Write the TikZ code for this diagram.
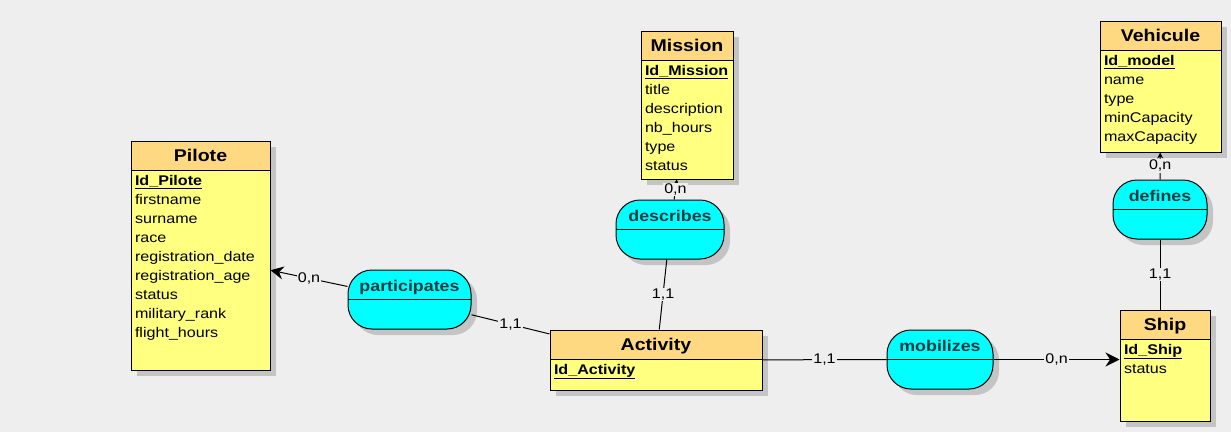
\documentclass[tikz,border=0pt]{standalone}
\usepackage{fontspec}
\setmainfont{Liberation Sans}[FakeStretch=1.15]
\usetikzlibrary{arrows.meta, shadows}
\definecolor{canvas}{HTML}{EEEEEE}
\definecolor{enthead}{HTML}{FFD982}
\definecolor{entbody}{HTML}{FFFF80}
\definecolor{assoc}{HTML}{00FFFF}
\definecolor{assoctext}{HTML}{0E3A40}
\definecolor{shade}{HTML}{C4C4C4}
\newcommand{\enttitle}[1]{\makebox[\hsize]{\fontsize{17pt}{19pt}\selectfont\bfseries #1}\\[5pt]}
\newcommand{\entkey}[1]{\underline{\textbf{#1}}}
\tikzset{
  entity/.style={rectangle, draw=black, fill=entbody, align=left,
                 inner xsep=4pt, inner ysep=4pt, text height=16pt,
                 font=\fontsize{14pt}{19pt}\selectfont,
                 drop shadow={shadow xshift=6pt, shadow yshift=-6pt, fill=shade, opacity=1},
                 path picture={
                   \fill[enthead] (path picture bounding box.north west) rectangle ([yshift=-29pt]path picture bounding box.north east);
                   \draw ([yshift=-29pt]path picture bounding box.north west) -- ([yshift=-29pt]path picture bounding box.north east);
                 }},
  assocbox/.style={rectangle, rounded corners=24pt, draw=black, fill=assoc,
                   minimum width=#1, minimum height=59pt, inner ysep=3pt,
                   text height=18pt, text depth=35pt, text=assoctext,
                   font=\fontsize{15.5pt}{18pt}\selectfont\bfseries,
                   drop shadow={shadow xshift=6pt, shadow yshift=-6pt, fill=shade, opacity=1},
                   path picture={
                     \draw (path picture bounding box.west) -- (path picture bounding box.east);
                   }},
  card/.style={fill=canvas, inner sep=1pt, font=\fontsize{14pt}{16pt}\selectfont},
  arr/.style={-{Stealth[length=#1, width=#1]}},
  arr/.default=13pt,
}

\begin{document}
\begin{tikzpicture}[x=1pt, y=-1pt, line width=1pt]
  \fill[canvas] (0,0) rectangle (1231,432);
  \useasboundingbox (0,0) rectangle (1231,432);

  \node[entity, text width=131pt, text depth=205pt] (pilote) at (200.5,255.5)
    {\enttitle{Pilote}\entkey{Id\_Pilote}\\ firstname\\ surname\\ race\\ registration\_date\\
     registration\_age\\ status\\ military\_rank\\ flight\_hours};
  \node[entity, text width=84pt, text depth=124pt] (mission) at (687,105)
    {\enttitle{Mission}\entkey{Id\_Mission}\\ title\\ description\\ nb\_hours\\ type\\ status};
  \node[entity, text width=113pt, text depth=107pt] (vehicule) at (1160.5,86.5)
    {\enttitle{Vehicule}\entkey{Id\_model}\\ name\\ type\\ minCapacity\\ maxCapacity};
  \node[entity, text width=204pt, text depth=36pt] (activity) at (656,360)
    {\enttitle{Activity}\entkey{Id\_Activity}};
  \node[entity, text width=82pt, text depth=87pt] (ship) at (1165,365.5)
    {\enttitle{Ship}\entkey{Id\_Ship}\\ status};

  \node[assocbox=123pt] (participates) at (409.5,299.5) {participates};
  \node[assocbox=108pt] (describes) at (670,229.5) {describes};
  \node[assocbox=106pt] (mobilizes) at (940,359.5) {mobilizes};
  \node[assocbox=94pt] (defines) at (1160,209.5) {defines};

  \draw[arr] (participates) -- (pilote) node[card, midway] {0,n};
  \draw (participates) -- (activity) node[card, midway] {1,1};
  \draw[arr=4pt] (describes) -- (mission) node[card, midway] {0,n};
  \draw (describes) -- (activity) node[card, midway] {1,1};
  \draw (activity) -- (mobilizes) node[card, midway] {1,1};
  \draw[arr=14pt] (mobilizes) -- (mobilizes -| ship.west) node[card, midway] {0,n};
  \draw[arr=6pt] (defines) -- (vehicule) node[card, midway] {0,n};
  \draw (defines) -- (defines |- ship.north) node[card, midway] {1,1};
\end{tikzpicture}
\end{document}
